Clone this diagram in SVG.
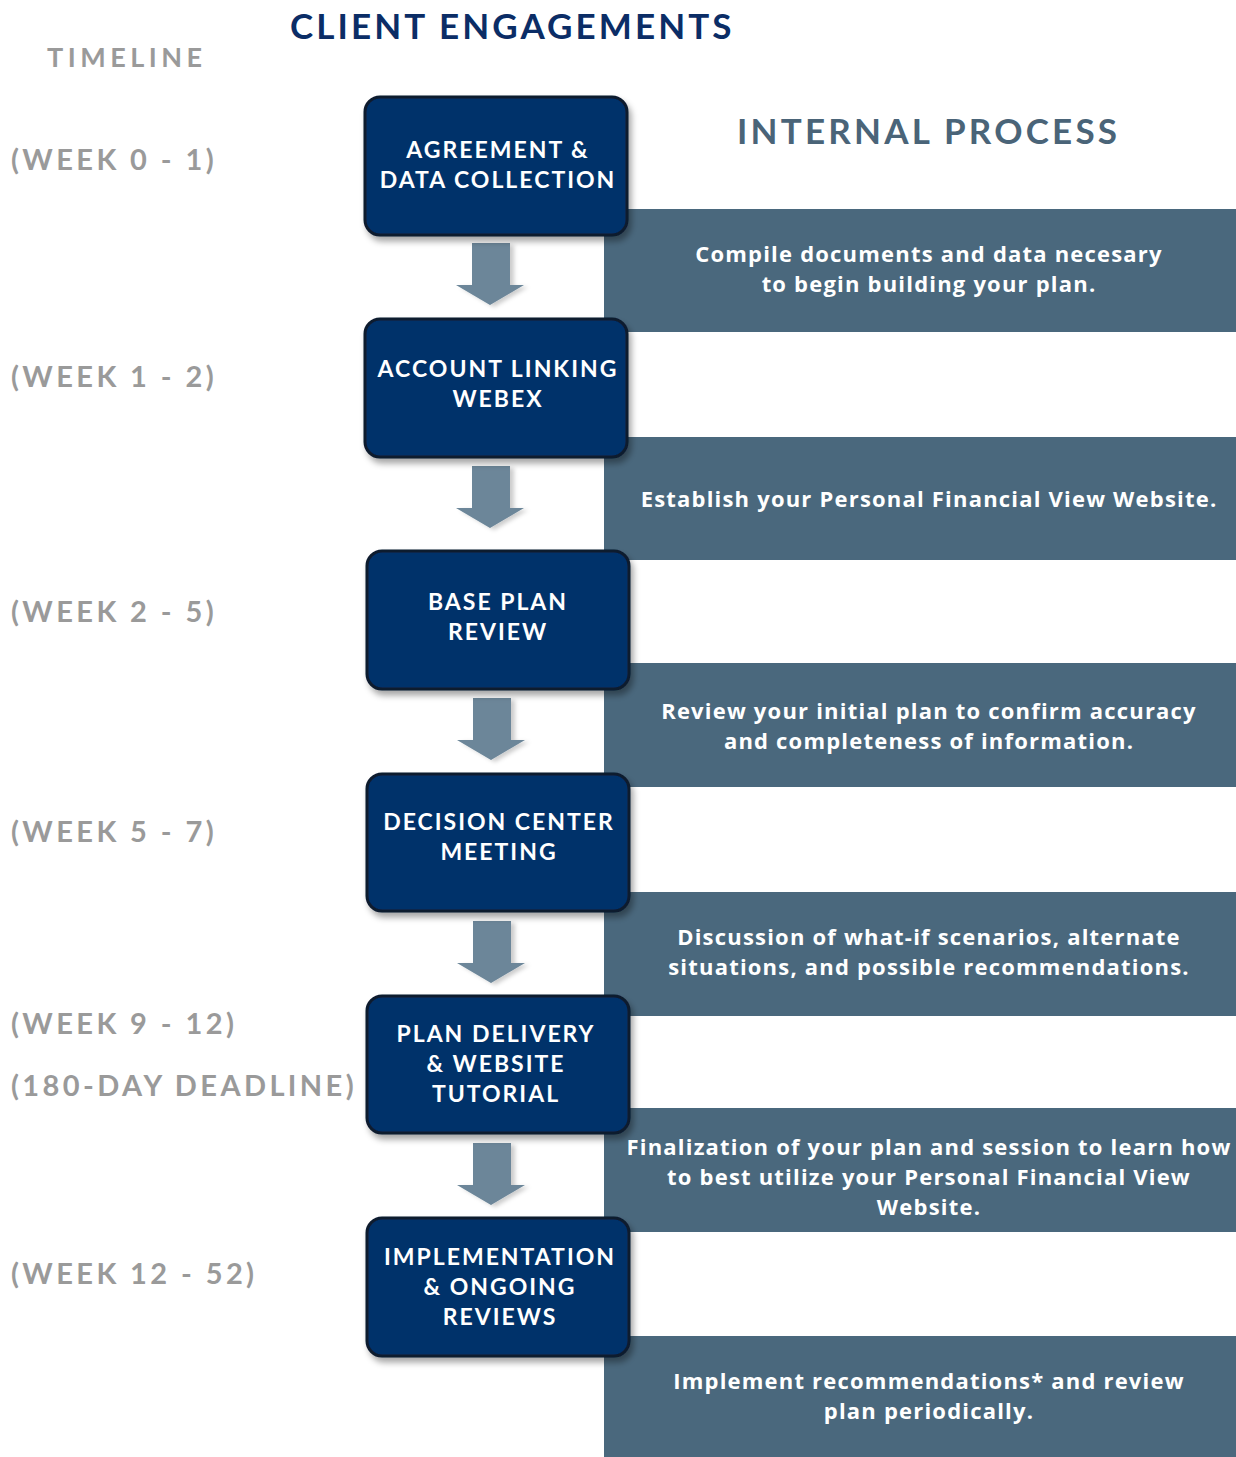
<svg xmlns="http://www.w3.org/2000/svg" width="1236" height="1457" viewBox="0 0 1236 1457">
<defs>
<filter id="sh" x="-10%" y="-10%" width="125%" height="130%">
<feDropShadow dx="3" dy="5" stdDeviation="3" flood-color="#000" flood-opacity="0.35"/>
</filter>
<filter id="ash" x="-20%" y="-20%" width="150%" height="150%">
<feDropShadow dx="4" dy="2" stdDeviation="2" flood-color="#000" flood-opacity="0.2"/>
</filter>
</defs>
<style>
.node{fill:#03306b;stroke:#0d1a2e;stroke-width:3}
.nt{font-family:Lato,"Liberation Sans",sans-serif;font-weight:700;font-size:23px;fill:#fff;text-anchor:middle;letter-spacing:2px}
.band{fill:#4a687d}
.bt{font-family:"Open Sans","Liberation Sans",sans-serif;font-weight:700;font-size:22px;fill:#fff;text-anchor:middle;letter-spacing:1.2px}
.wk{font-family:Lato,"Liberation Sans",sans-serif;font-size:29px;fill:#9a9a9a;letter-spacing:3.4px;font-weight:700}
.arr{fill:#6c8699}
.h1{font-family:Lato,"Liberation Sans",sans-serif;font-weight:700;font-size:35px;fill:#0b2d66;letter-spacing:1.5px}
.h2{font-family:Lato,"Liberation Sans",sans-serif;font-weight:700;font-size:35px;fill:#4a6478;letter-spacing:2px}
.tl{font-family:Lato,"Liberation Sans",sans-serif;font-weight:700;font-size:27px;fill:#9a9a9a;letter-spacing:3px}
</style>
<rect width="1236" height="1457" fill="#fff"/>
<text class="h1" x="290" y="39" textLength="443">CLIENT ENGAGEMENTS</text>
<text class="tl" x="47" y="67" textLength="158">TIMELINE</text>
<text class="h2" x="737" y="144" textLength="382">INTERNAL PROCESS</text>

<g id="bands">
<rect class="band" x="604" y="209" width="632" height="123"/>
<rect class="band" x="604" y="437" width="632" height="123"/>
<rect class="band" x="604" y="663" width="632" height="124"/>
<rect class="band" x="604" y="892" width="632" height="124"/>
<rect class="band" x="604" y="1108" width="632" height="124"/>
<rect class="band" x="604" y="1336" width="632" height="121"/>
<text class="bt" x="929" y="262">Compile documents and data necesary</text>
<text class="bt" x="929" y="292">to begin building your plan.</text>
<text class="bt" x="929" y="507">Establish your Personal Financial View Website.</text>
<text class="bt" x="929" y="719">Review your initial plan to confirm accuracy</text>
<text class="bt" x="929" y="749">and completeness of information.</text>
<text class="bt" x="929" y="945">Discussion of what-if scenarios, alternate</text>
<text class="bt" x="929" y="975">situations, and possible recommendations.</text>
<text class="bt" x="929" y="1155">Finalization of your plan and session to learn how</text>
<text class="bt" x="929" y="1185">to best utilize your Personal Financial View</text>
<text class="bt" x="929" y="1215">Website.</text>
<text class="bt" x="929" y="1389">Implement recommendations* and review</text>
<text class="bt" x="929" y="1419">plan periodically.</text>
</g>

<g id="timeline">
<text class="wk" x="11" y="170">(WEEK 0 - 1)</text>
<text class="wk" x="11" y="387">(WEEK 1 - 2)</text>
<text class="wk" x="11" y="622">(WEEK 2 - 5)</text>
<text class="wk" x="11" y="842">(WEEK 5 - 7)</text>
<text class="wk" x="11" y="1034">(WEEK 9 - 12)</text>
<text class="wk" x="11" y="1096">(180-DAY DEADLINE)</text>
<text class="wk" x="11" y="1284">(WEEK 12 - 52)</text>
</g>

<g id="connectors">
<path class="arr" filter="url(#ash)" d="M472 243H510V285H524L490 305L456 285H472Z"/>
<path class="arr" filter="url(#ash)" d="M472 466H510V508H524L490 528L456 508H472Z"/>
<path class="arr" filter="url(#ash)" d="M473 698H511V740H525L491 760L457 740H473Z"/>
<path class="arr" filter="url(#ash)" d="M473 921H511V963H525L491 983L457 963H473Z"/>
<path class="arr" filter="url(#ash)" d="M473 1143H511V1185H525L491 1205L457 1185H473Z"/>
</g>

<g id="n1"><rect class="node" filter="url(#sh)" x="365" y="97" width="262" height="138" rx="15"/>
<text class="nt" x="498" y="158">AGREEMENT &amp;</text><text class="nt" x="498" y="188">DATA COLLECTION</text></g>
<g id="n2"><rect class="node" filter="url(#sh)" x="365" y="319" width="262" height="138" rx="15"/>
<text class="nt" x="498" y="377">ACCOUNT LINKING</text><text class="nt" x="498" y="407">WEBEX</text></g>
<g id="n3"><rect class="node" filter="url(#sh)" x="367" y="551" width="262" height="138" rx="15"/>
<text class="nt" x="498" y="610">BASE PLAN</text><text class="nt" x="498" y="640">REVIEW</text></g>
<g id="n4"><rect class="node" filter="url(#sh)" x="367" y="774" width="262" height="137" rx="15"/>
<text class="nt" x="499" y="830">DECISION CENTER</text><text class="nt" x="499" y="860">MEETING</text></g>
<g id="n5"><rect class="node" filter="url(#sh)" x="367" y="996" width="262" height="137" rx="15"/>
<text class="nt" x="496" y="1042">PLAN DELIVERY</text><text class="nt" x="496" y="1072">&amp; WEBSITE</text><text class="nt" x="496" y="1102">TUTORIAL</text></g>
<g id="n6"><rect class="node" filter="url(#sh)" x="367" y="1218" width="262" height="138" rx="15"/>
<text class="nt" x="500" y="1265">IMPLEMENTATION</text><text class="nt" x="500" y="1295">&amp; ONGOING</text><text class="nt" x="500" y="1325">REVIEWS</text></g>
</svg>
